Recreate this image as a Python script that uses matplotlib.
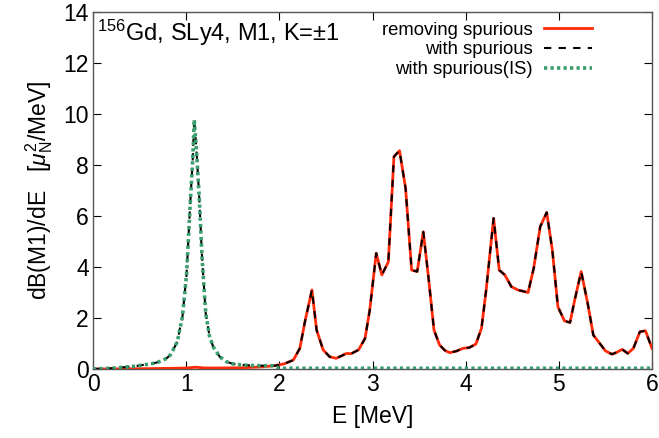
import numpy as np
import matplotlib
matplotlib.use("Agg")
import matplotlib.pyplot as plt

plt.rcParams['font.family'] = ['Liberation Sans', 'DejaVu Sans']
plt.rcParams['mathtext.fontset'] = 'custom'
plt.rcParams['mathtext.rm'] = 'Liberation Sans'
plt.rcParams['mathtext.it'] = 'Liberation Sans:italic'
plt.rcParams['mathtext.bf'] = 'Liberation Sans:bold'

# ---- data ----
red_E = [0.0, 0.5, 0.9, 1.0, 1.1, 1.2, 1.4, 1.6, 1.8, 1.95, 2.05, 2.15, 2.22, 2.275,
         2.35, 2.40, 2.47, 2.54, 2.61, 2.67, 2.72, 2.77, 2.85, 2.92, 2.97, 3.04, 3.10,
         3.17, 3.23, 3.29, 3.355, 3.42, 3.48, 3.545, 3.60, 3.66, 3.72, 3.78, 3.83,
         3.90, 3.97, 4.04, 4.11, 4.17, 4.22, 4.30, 4.36, 4.42, 4.49, 4.56, 4.67, 4.73,
         4.80, 4.87, 4.93, 4.99, 5.06, 5.12, 5.17, 5.24, 5.31, 5.37, 5.44, 5.50, 5.57,
         5.62, 5.68, 5.74, 5.80, 5.87, 5.93, 6.0]
red_val = [0.0, 0.01, 0.03, 0.04, 0.07, 0.04, 0.04, 0.05, 0.08, 0.13, 0.2, 0.35, 0.81,
           1.86, 3.1, 1.53, 0.75, 0.48, 0.42, 0.52, 0.61, 0.6, 0.75, 1.2, 2.3, 4.54,
           3.69, 4.2, 8.33, 8.56, 7.09, 3.88, 3.82, 5.38, 3.62, 1.53, 0.94, 0.72, 0.64,
           0.7, 0.81, 0.84, 0.98, 1.6, 3.1, 5.91, 3.88, 3.69, 3.23, 3.1, 3.0, 3.95,
           5.58, 6.14, 4.67, 2.44, 1.89, 1.82, 2.7, 3.82, 2.57, 1.33, 1.0, 0.71, 0.58,
           0.65, 0.77, 0.61, 0.81, 1.46, 1.5, 0.81]

is_E = [0.0, 0.2, 0.33, 0.45, 0.54, 0.62, 0.68, 0.74, 0.79, 0.83, 0.86, 0.905, 0.93,
        0.96, 1.005, 1.04, 1.07, 1.087, 1.11, 1.14, 1.17, 1.21, 1.25, 1.29, 1.36, 1.43,
        1.5, 1.6, 1.7, 1.79, 1.93, 2.0, 6.0]
is_val = [0.0, 0.03, 0.07, 0.11, 0.16, 0.2, 0.25, 0.32, 0.42, 0.55, 0.75, 1.07, 1.53,
          2.05, 3.75, 6.24, 8.2, 9.78, 8.6, 6.76, 4.4, 2.18, 1.3, 0.87, 0.48, 0.29,
          0.2, 0.16, 0.14, 0.13, 0.13, 0.03, 0.03]

# "with spurious": follows the IS curve below the switch energy, then the red curve
switch_E = 1.94

x_ticks = [0, 1, 2, 3, 4, 5, 6]
y_ticks = [0, 2, 4, 6, 8, 10, 12, 14]

red_E_a, red_v_a = np.array(red_E), np.array(red_val)
is_E_a, is_v_a = np.array(is_E), np.array(is_val)
m_is = is_E_a < switch_E
m_red = red_E_a > switch_E
sp_E = np.concatenate([is_E_a[m_is], red_E_a[m_red]])
sp_val = np.concatenate([is_v_a[m_is], red_v_a[m_red]])

fig = plt.figure(figsize=(6.59, 4.38), dpi=100)
ax = fig.add_axes([93/659, 1-369/438, (652-93)/659, (369-12)/438])

ax.plot(red_E_a, red_v_a, color='#ff2a0a', lw=2.0, label='removing spurious', zorder=3)
ax.plot(sp_E, sp_val, color='black', lw=1.5, dashes=(3.5, 3.5), label='with spurious', zorder=4)
ax.plot(is_E_a, is_v_a, color='#3a9e6e', lw=2.6, dashes=(0.9, 0.9),
        label='with spurious(IS)', zorder=5)

ax.set_xlim(0, 6)
ax.set_ylim(0, 14)
ax.set_xticks(x_ticks)
ax.set_yticks(y_ticks)
ax.tick_params(direction='in', top=True, right=True, length=6, width=0.8,
               labelsize=16.5, pad=3, color='black')
for s in ax.spines.values():
    s.set_color('#555555')
    s.set_linewidth(1.0)

ax.set_xlabel('E [MeV]', fontsize=16.5, labelpad=6)
ax.set_ylabel(r'dB(M1)/dE   [$\mu_{\rm N}^2$/MeV]', fontsize=16.5, labelpad=6)

ax.text(0.008, 0.985, r'$^{156}$Gd, SLy4, M1, K=±1', transform=ax.transAxes,
        fontsize=17, ha='left', va='top')

leg = ax.legend(loc='upper right', bbox_to_anchor=(0.893, 0.973), frameon=False,
                markerfirst=False, fontsize=13.3, handlelength=2.6, handletextpad=0.6,
                labelspacing=0.15, borderaxespad=0.0, borderpad=0.0)

fig.savefig('out.png', dpi=100)
